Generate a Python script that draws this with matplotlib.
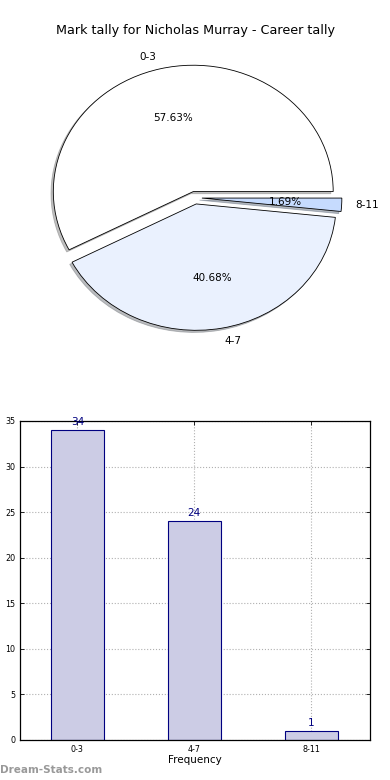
import matplotlib
matplotlib.use("Agg")
import matplotlib.pyplot as plt
import numpy as np

# data
categories = ["0-3", "4-7", "8-11"]
counts = [34, 24, 1]
pie_colors = ["#ffffff", "#eaf1fe", "#c6dbfe"]
explode = [0.05, 0.05, 0.05]

fig = plt.figure(figsize=(3.9, 7.8), dpi=100)
fig.patch.set_facecolor("white")

# pie
pie_pos = [0.0513, 0.544, 0.897, 0.405]
ax1 = fig.add_axes(pie_pos)
wedges, texts, autotexts = ax1.pie(counts, labels=categories, colors=pie_colors,
                                   explode=explode, autopct="%1.2f%%",
                                   shadow=dict(ox=-0.012, oy=-0.012, shade=0.5),
                                   startangle=0, counterclock=True,
                                   wedgeprops=dict(edgecolor="black", linewidth=0.6),
                                   textprops=dict(fontsize=7.5))
ax1.set_aspect("auto")
ax1.set_xlim(-1.25, 1.25)
ax1.set_ylim(-1.25, 1.25)
ax1.set_position(pie_pos)
fig.text(0.5, 0.961, "Mark tally for Nicholas Murray - Career tally",
         ha="center", va="center", fontsize=9.2)

# bars
ax2 = fig.add_axes([0.0513, 0.0513, 0.897, 0.4090])
x = np.arange(len(categories))
bars = ax2.bar(x, counts, width=0.45, color="#cccce5", edgecolor="navy", linewidth=0.8, zorder=2)
for xi, c in zip(x, counts):
    ax2.text(xi, c + 0.3, str(c), ha="center", va="bottom", color="navy", fontsize=7.5)
ax2.set_xlim(-0.49, 2.5)
ax2.set_ylim(0, 35)
ax2.set_yticks(np.arange(0, 36, 5))
ax2.set_xticks(x)
ax2.set_xticklabels(categories)
ax2.tick_params(labelsize=5.8, direction="in", top=True, right=True, length=3, width=0.6)
ax2.grid(True, linestyle=":", color="#b0b0b0", linewidth=0.8, zorder=0)
ax2.set_axisbelow(True)
for s in ax2.spines.values():
    s.set_linewidth(0.9)
ax2.set_xlabel("Frequency", fontsize=7.5, labelpad=1)
ax2.set_ylabel("Dart Intervals", fontsize=7.5)
ax2.yaxis.set_label_coords(-0.065, 0.5)

fig.text(0.0, 0.013, "Dream-Stats.com", fontsize=7.5, fontweight="bold", color="#999999",
         ha="left", va="center")

fig.savefig("out.png", dpi=100)
